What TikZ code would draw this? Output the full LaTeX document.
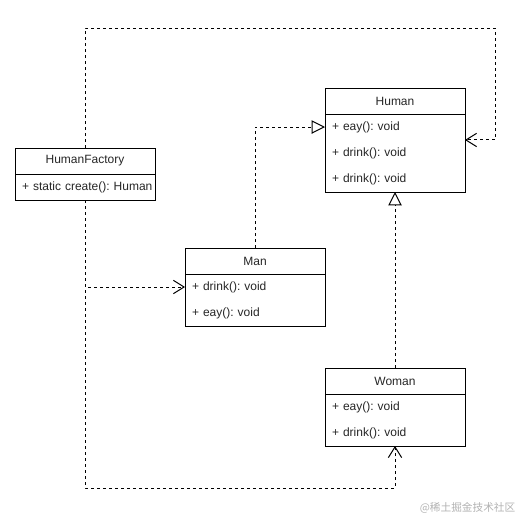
\documentclass[tikz,border=0pt]{standalone}
\usepackage{fontspec}
\setmainfont{Liberation Sans}
\newfontfamily\cjk{Noto Sans CJK SC}
\usetikzlibrary{positioning,calc,arrows.meta}

\begin{document}
\begin{tikzpicture}[
            x=0.75pt, y=-0.75pt,
            classbox/.style={rectangle, draw, line width=0.75pt, outer sep=0pt, minimum width=105pt, minimum height=19.5pt, text=black!85, font=\fontsize{9}{10}\selectfont},
            member/.style={rectangle, draw, line width=0.75pt, outer sep=0pt, inner xsep=5.25pt, inner ysep=0pt, text width=94.5pt, align=left, text=black!85, font=\fontsize{9}{19.5}\selectfont\frenchspacing},
            dependency/.style={-{Straight Barb[length=8pt,width=10pt]}, line width=0.75pt, dash pattern=on 2.25pt off 2.25pt},
            realize/.style={-{Triangle[open,length=10pt,width=10pt]}, line width=0.75pt, dash pattern=on 2.25pt off 2.25pt}
            ]
            \useasboundingbox (0,0) rectangle (524,518);

            % Classes
            \node[classbox] (fhead) at (85,161) {HumanFactory};
            \node[member, minimum height=19.5pt, below=0pt of fhead] (fbody) {\mbox{+ static create(): Human}};

            \node[classbox] (hhead) at (395,101) {Human};
            \node[member, minimum height=58.5pt, below=0pt of hhead] (hbody) {+ eay(): void\\+ drink(): void\\+ drink(): void};

            \node[classbox] (mhead) at (255,261) {Man};
            \node[member, minimum height=39pt, below=0pt of mhead] (mbody) {+ drink(): void\\+ eay(): void};

            \node[classbox] (whead) at (395,381) {Woman};
            \node[member, minimum height=39pt, below=0pt of whead] (wbody) {+ eay(): void\\+ drink(): void};

            % Corners of the factory routes
            \coordinate (topright) at (495,28);
            \coordinate (bottomleft) at (85,488);

            % Arrows
            \draw[dependency] (fhead.north) |- (topright) |- ($(hbody.north east)!0.333!(hbody.south east)$);
            \draw[dependency] (fbody.south) |- ($(mbody.north west)!0.25!(mbody.south west)$);
            \draw[dependency] (fbody.south) -- (bottomleft) -| (wbody.south);
            \draw[realize] (mhead.north) |- ($(hbody.north west)!0.1667!(hbody.south west)$);
            \draw[realize] (whead.north) -- (hbody.south);

            \node[anchor=east, text=black!30, font=\cjk\fontsize{8}{8}\selectfont] (mark) at (520,508) {@稀土掘金技术社区};

        \end{tikzpicture}
\end{document}
